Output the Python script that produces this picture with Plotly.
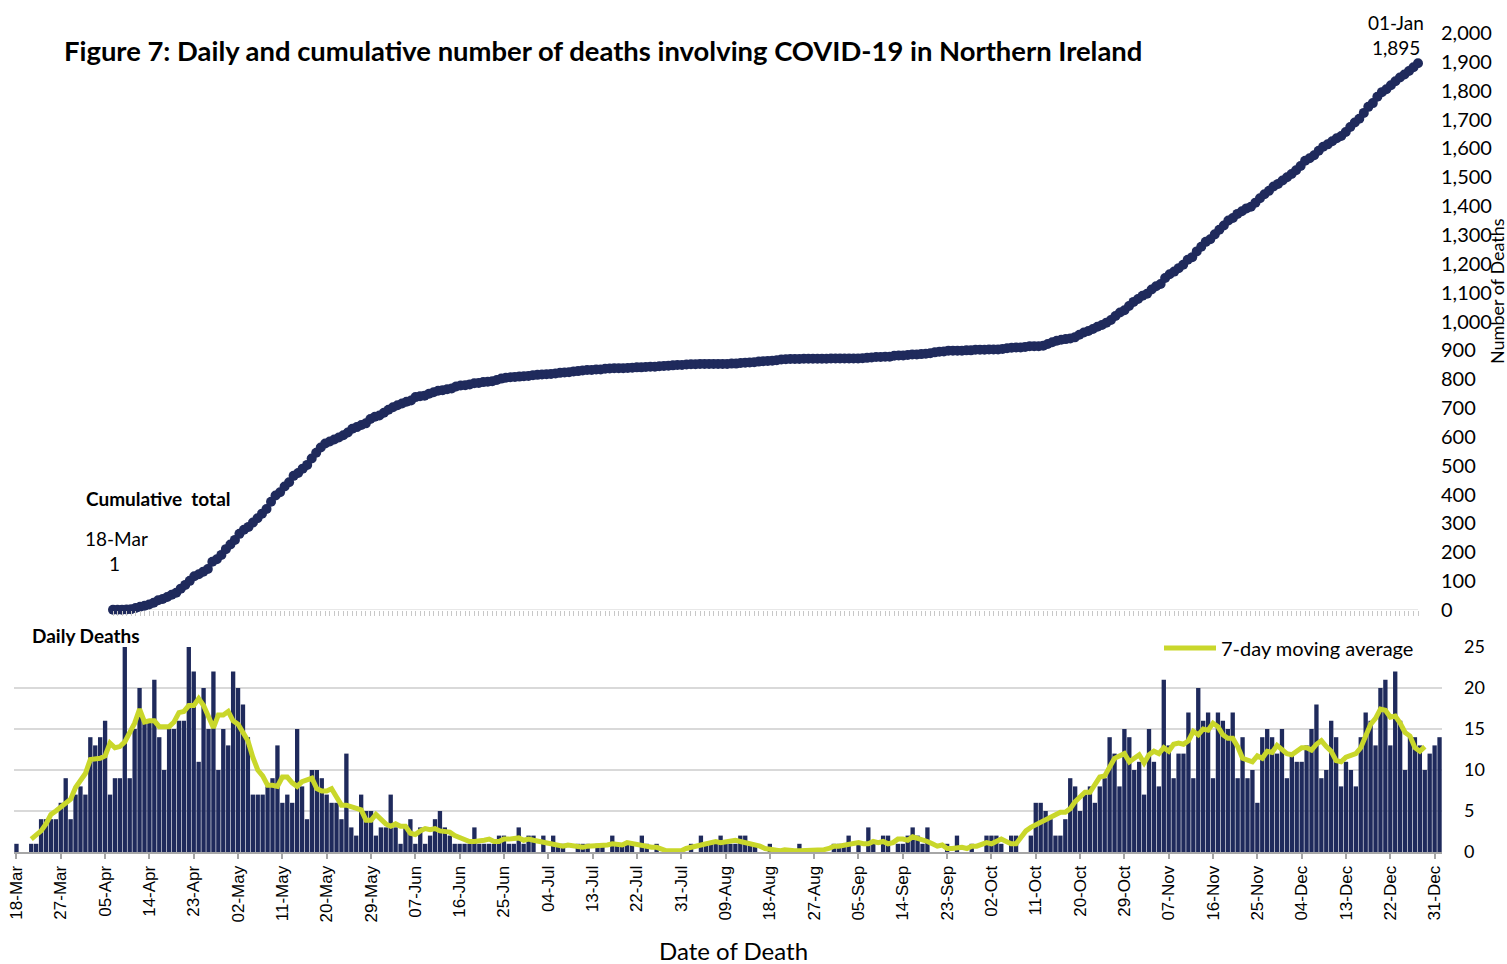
import numpy as np
import pandas as pd
import plotly.graph_objects as go

# ---------------- data (daily deaths by date of death, 18-Mar-2020 .. 01-Jan-2021) ----------------
start_date = "2020-03-18"
mar = [1, 0, 0, 1, 1, 4, 4, 4, 4, 6, 9, 4, 7, 8]
apr = [7, 14, 13, 14, 16, 7, 9, 9, 25, 9, 15, 20, 16, 16, 21, 14, 10, 15, 15, 16,
       16, 25, 22, 11, 20, 15, 22, 10, 15, 13]
may = [22, 20, 18, 14, 7, 7, 7, 8, 9, 13, 6, 7, 6, 15, 8, 4, 10, 10, 9, 7,
       6, 6, 4, 12, 3, 2, 7, 5, 5, 2, 3]
jun = [3, 7, 3, 1, 3, 4, 1, 3, 1, 2, 4, 5, 3, 2, 1, 1, 1, 1, 3, 1,
       1, 1, 1, 2, 2, 1, 1, 3, 1, 2]
jul = [2, 0, 2, 0, 2, 1, 1, 0, 0, 1, 1, 1, 0, 1, 1, 0, 2, 1, 1, 1,
       1, 0, 2, 1, 0, 1, 0, 0, 0, 0, 0]
aug = [0, 1, 0, 2, 1, 1, 1, 2, 1, 1, 1, 2, 2, 1, 1, 0, 0, 1, 0, 0,
       0, 0, 0, 1, 0, 0, 0, 0, 0, 0, 1]
sep = [1, 1, 2, 0, 1, 0, 3, 1, 0, 2, 2, 0, 1, 1, 2, 3, 2, 1, 3, 0,
       0, 0, 1, 0, 2, 0, 0, 1, 0, 0]
oct_ = [2, 2, 2, 1, 0, 2, 2, 0, 0, 2, 6, 6, 5, 4, 2, 2, 4, 9, 8, 5,
        7, 8, 6, 8, 9, 14, 12, 8, 15, 14, 10]
nov = [11, 7, 15, 11, 8, 21, 13, 9, 12, 12, 17, 9, 20, 16, 17, 9, 17, 16, 15, 17,
       9, 14, 9, 10, 6, 14, 15, 14, 12, 15]
dec = [9, 12, 11, 11, 13, 15, 18, 9, 10, 16, 14, 8, 11, 10, 8, 14, 17, 16, 13, 20,
       21, 13, 22, 16, 10, 14, 14, 13, 10, 12, 13]
jan = [14]

daily_deaths = mar + apr + may + jun + jul + aug + sep + oct_ + nov + dec + jan
dates = pd.date_range(start_date, periods=len(daily_deaths), freq="D")
cumulative = np.cumsum(daily_deaths)
moving_avg = pd.Series(daily_deaths).rolling(7, center=True).mean()

y_cum_ticks = list(range(0, 2001, 100))
y_daily_ticks = [0, 5, 10, 15, 20, 25]

# ---------------- styling ----------------
NAVY = "#1F2A5C"
LIME = "#C9D72B"
GRID = "#D9D9D9"
W, H = 1507, 964
FONT = "Lato"

def px(x):
    return x / W

def py(y):
    return 1 - y / H

day = pd.Timedelta(days=1)
first, last = dates[0], dates[-1]

# top panel: first date at x=113px, last date at x=1418px
top_l, top_r = 100, 1425
ppd_top = (1418 - 113) / (len(dates) - 1)
top_range = [first - day * ((113 - top_l) / ppd_top), last + day * ((top_r - 1418) / ppd_top)]

fig = go.Figure()

fig.add_trace(go.Scatter(
    x=dates, y=cumulative, mode="lines+markers",
    line=dict(color=NAVY, width=3), marker=dict(color=NAVY, size=10),
    xaxis="x2", yaxis="y2", cliponaxis=False, showlegend=False,
    hovertemplate="%{x|%d-%b}: %{y}<extra></extra>"))

fig.add_trace(go.Bar(
    x=dates, y=daily_deaths, marker=dict(color=NAVY, line=dict(width=0)),
    xaxis="x", yaxis="y", showlegend=False,
    hovertemplate="%{x|%d-%b}: %{y}<extra></extra>"))

fig.add_trace(go.Scatter(
    x=dates, y=moving_avg, mode="lines", name="7-day moving average",
    line=dict(color=LIME, width=5), xaxis="x", yaxis="y", showlegend=True))

tick_dates = dates[::9][:33]

fig.update_layout(
    template="none",
    width=W, height=H, autosize=False,
    margin=dict(l=0, r=0, t=0, b=0, pad=0),
    paper_bgcolor="white", plot_bgcolor="white",
    font=dict(family=FONT, color="black"),
    bargap=0.12,
    xaxis=dict(
        domain=[px(14), px(1442)], automargin=False,
        range=[first - day / 2, last + day / 2],
        tickmode="array", tickvals=tick_dates,
        ticktext=[d.strftime("%d-%b") for d in tick_dates],
        tickangle=-90, tickfont=dict(family="Liberation Sans", size=17),
        ticklabeloverflow="allow",
        ticks="outside", ticklen=5, tickcolor="#A6A6A6", tickwidth=2,
        showline=True, linecolor="#A6A6A6", linewidth=2,
        showgrid=False, zeroline=False, anchor="y",
    ),
    yaxis=dict(
        domain=[py(852), py(647)], range=[0, 25], automargin=False,
        tickvals=y_daily_ticks, side="right", anchor="x",
        tickfont=dict(size=18), ticks="", ticklabelstandoff=21,
        showgrid=True, gridcolor=GRID, gridwidth=2, zeroline=False, showline=False,
    ),
    xaxis2=dict(
        domain=[px(top_l), px(top_r)], range=top_range, automargin=False,
        tickmode="array", tickvals=dates, showticklabels=False,
        ticks="outside", ticklen=5, tickcolor="#C8C8C8", tickwidth=1,
        showline=False, showgrid=False, zeroline=False, anchor="y2",
    ),
    yaxis2=dict(
        domain=[py(610), py(33)], range=[0, 2000], automargin=False,
        tickvals=y_cum_ticks, tickformat=",d", side="right", anchor="x2",
        tickfont=dict(size=20), ticks="", ticklabelstandoff=15,
        showgrid=False, zeroline=False, showline=False,
    ),
    legend=dict(
        x=px(1159), y=py(648), xanchor="left", yanchor="middle",
        font=dict(size=20), bgcolor="rgba(0,0,0,0)", itemwidth=52,
    ),
)

# baseline of cumulative panel
fig.add_shape(type="line", xref="x2", yref="y2", x0=first, x1=last, y0=0, y1=0,
              line=dict(color="#D0D0D0", width=1), layer="below")

ann = [
    dict(text="<b>Figure 7: Daily and cumulative number of deaths involving COVID-19 in Northern Ireland</b>",
         x=px(62), y=py(50), xanchor="left", yanchor="middle", font=dict(size=27.4)),
    dict(text="<b>Cumulative  total</b>", x=px(84), y=py(498), xanchor="left", yanchor="middle",
         font=dict(size=19)),
    dict(text=first.strftime("%d-%b"), x=px(116), y=py(538), xanchor="center", yanchor="middle",
         font=dict(size=19)),
    dict(text=f"{cumulative[0]:,}", x=px(114), y=py(563), xanchor="center", yanchor="middle",
         font=dict(size=19)),
    dict(text=last.strftime("%d-%b"), x=px(1396), y=py(22), xanchor="center", yanchor="middle",
         font=dict(size=19)),
    dict(text=f"{cumulative[-1]:,}", x=px(1396), y=py(47), xanchor="center", yanchor="middle",
         font=dict(size=19)),
    dict(text="<b>Daily Deaths</b>", x=px(30), y=py(635), xanchor="left", yanchor="middle",
         font=dict(size=19)),
    dict(text="Number of Deaths", x=px(1497), y=py(291), xanchor="center", yanchor="middle",
         textangle=-90, font=dict(size=18)),
    dict(text="Date of Death", x=px(733), y=py(950), xanchor="center", yanchor="middle",
         font=dict(size=24)),
]
for a in ann:
    fig.add_annotation(xref="paper", yref="paper", showarrow=False, **a)

fig.write_html(
    "out.html",
    config={"displayModeBar": False},
    post_script="document.body.style.margin='0';document.body.style.overflow='hidden';",
)
